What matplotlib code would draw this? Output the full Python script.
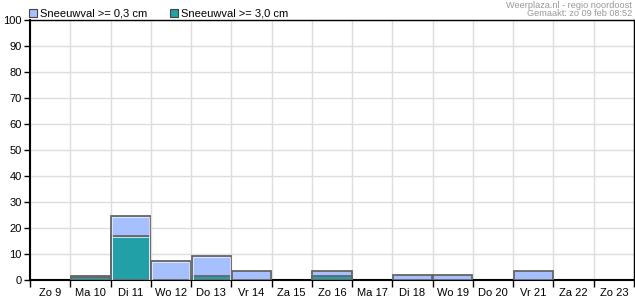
import matplotlib
matplotlib.use('Agg')
from matplotlib import pyplot as plt
import numpy as np

days = ['Zo 9', 'Ma 10', 'Di 11', 'Wo 12', 'Do 13', 'Vr 14', 'Za 15', 'Zo 16',
        'Ma 17', 'Di 18', 'Wo 19', 'Do 20', 'Vr 21', 'Za 22', 'Zo 23']
snow_03 = [0, 1.7, 24.7, 7.4, 9.3, 3.6, 0, 3.6, 0, 1.8, 1.8, 0, 3.6, 0, 0]
snow_30 = [0, 1.3, 17.0, 0, 1.5, 0, 0, 1.5, 0, 0, 0, 0, 0, 0, 0]

plt.rcParams['font.family'] = ['Liberation Sans', 'DejaVu Sans']

fig = plt.figure(figsize=(6.35, 3.0), dpi=100)
ax = fig.add_axes([30 / 635, 20 / 300, 604 / 635, 260 / 300])

x = np.arange(len(days))

# light blue: >= 0,3 cm, teal in front: >= 3,0 cm
for vals, col in [(snow_03, '#a6bfff'), (snow_30, '#21a0a8')]:
    v = np.array(vals)
    m = v > 0
    ax.bar(x[m], v[m], width=0.97, color=col, edgecolor='#666666', linewidth=1.3, zorder=3)
    # inner highlight line, only on the taller bars
    h = v > 5
    ax.bar(x[h], v[h] - 0.45, bottom=0.0, width=0.92, color='none',
           edgecolor='#e6ecff', linewidth=0.6, zorder=4)

ax.set_xlim(-0.5, len(days) - 0.5)
ax.set_ylim(0, 100)
ax.set_yticks(range(0, 101, 10))
ax.set_xticks(x)
ax.set_xticklabels(days)
ax.set_xticks(np.arange(len(days) + 1) - 0.5, minor=True)

ax.grid(axis='y', color='#dddddd', linewidth=1, zorder=0)
ax.grid(axis='x', which='minor', color='#dddddd', linewidth=1, zorder=0)
ax.set_axisbelow(True)

ax.tick_params(axis='x', which='major', length=0, labelsize=8, pad=6)
ax.tick_params(axis='x', which='minor', length=5, width=1, direction='out')
ax.tick_params(axis='y', length=4, width=1, labelsize=8, pad=2)

for s in ['left', 'bottom']:
    ax.spines[s].set_linewidth(1.5)
for s in ['top', 'right']:
    ax.spines[s].set_linewidth(1)

# legend
fig.patches.append(plt.Rectangle((29 / 635, 1 - 17 / 300), 8 / 635, 8 / 300, transform=fig.transFigure,
                                 facecolor='#a6bfff', edgecolor='#444444', linewidth=0.8))
fig.text(40 / 635, 1 - 13 / 300, 'Sneeuwval >= 0,3 cm', fontsize=8, va='center')
fig.patches.append(plt.Rectangle((170 / 635, 1 - 17 / 300), 8 / 635, 8 / 300, transform=fig.transFigure,
                                 facecolor='#21a0a8', edgecolor='#444444', linewidth=0.8))
fig.text(181 / 635, 1 - 13 / 300, 'Sneeuwval >= 3,0 cm', fontsize=8, va='center')

fig.text(632 / 635, 1 - 5 / 300, 'Weerplaza.nl - regio noordoost', fontsize=6.6, color='#999999',
         ha='right', va='center')
fig.text(632 / 635, 1 - 14 / 300, 'Gemaakt: zo 09 feb 08:52', fontsize=6.6, color='#999999',
         ha='right', va='center')

plt.savefig('out.png', dpi=100)
